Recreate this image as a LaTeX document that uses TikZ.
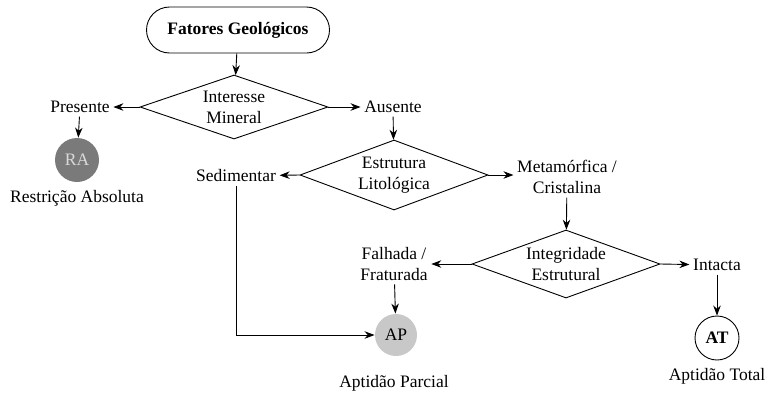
\documentclass[tikz,border=0pt]{standalone}
\usepackage{fontspec}
\setmainfont{Liberation Serif}[Ligatures=TeX]
\usetikzlibrary{shapes.geometric,arrows.meta}

\definecolor{darkdisc}{RGB}{122,122,122}
\definecolor{lightdisc}{RGB}{200,200,200}

\begin{document}
\begin{tikzpicture}[x=1pt, y=-1pt, line width=0.9pt,
  every node/.style={font=\rmfamily\fontsize{17.5}{21}\selectfont, align=center},
  flow/.style={-{Stealth[length=10pt,width=7.5pt]}},
  start/.style={draw, rounded corners=23pt, minimum width=183pt, minimum height=46pt},
  choice/.style={draw, diamond, aspect=2.9, inner sep=0pt, minimum width=188pt, minimum height=64pt},
  result/.style={circle, minimum size=44pt, inner sep=0pt}]

\useasboundingbox (0,0) rectangle (770,394);

\node[start] (fatores) at (238,30) {\textbf{Fatores Geológicos}};

\node[choice] (interesse) at (234,107) {Interesse\\Mineral};
\node (presente) at (80,107) {Presente};
\node (ausente) at (393,107) {Ausente};
\node[result, fill=darkdisc, text=white!85!black] (ra) at (77,160) {RA};
\node (restricao) at (77,198) {Restrição Absoluta};

\node[choice, minimum height=70pt] (estrutura) at (394,175) {Estrutura\\Litológica};
\node (sedimentar) at (236,176) {Sedimentar};
\node (metamorfica) at (567,177) {Metamórfica /\\Cristalina};

\node[choice, minimum height=68pt] (integridade) at (566,264) {Integridade\\Estrutural};
\node (falhada) at (394,264) {Falhada /\\Fraturada};
\node (intacta) at (717,265) {Intacta};

\node[result, fill=lightdisc, minimum size=42pt] (ap) at (396,335) {AP};
\node (parcial) at (394,383) {Aptidão Parcial};
\node[result, draw] (at) at (717,338) {\textbf{AT}};
\node (total) at (717,376) {Aptidão Total};

\draw[flow] (fatores) -- (interesse);
\draw[flow] (interesse.west) -- (presente);
\draw[flow] (interesse.east) -- (ausente);
\draw[flow] (presente) -- (ra);
\draw[flow] (ausente) -- (estrutura);
\draw[flow] (estrutura.west) -- (sedimentar);
\draw[flow] (estrutura.east) -- (metamorfica.west |- estrutura.east);
\draw[flow] (metamorfica) -- (integridade);
\draw[flow] (integridade.west) -- (falhada.east |- integridade.west);
\draw[flow] (integridade.east) -- (intacta);
\draw[flow] (falhada) -- (ap);
\draw[flow] (intacta) -- (at);
\draw[flow] (sedimentar) |- (ap);

\end{tikzpicture}
\end{document}
